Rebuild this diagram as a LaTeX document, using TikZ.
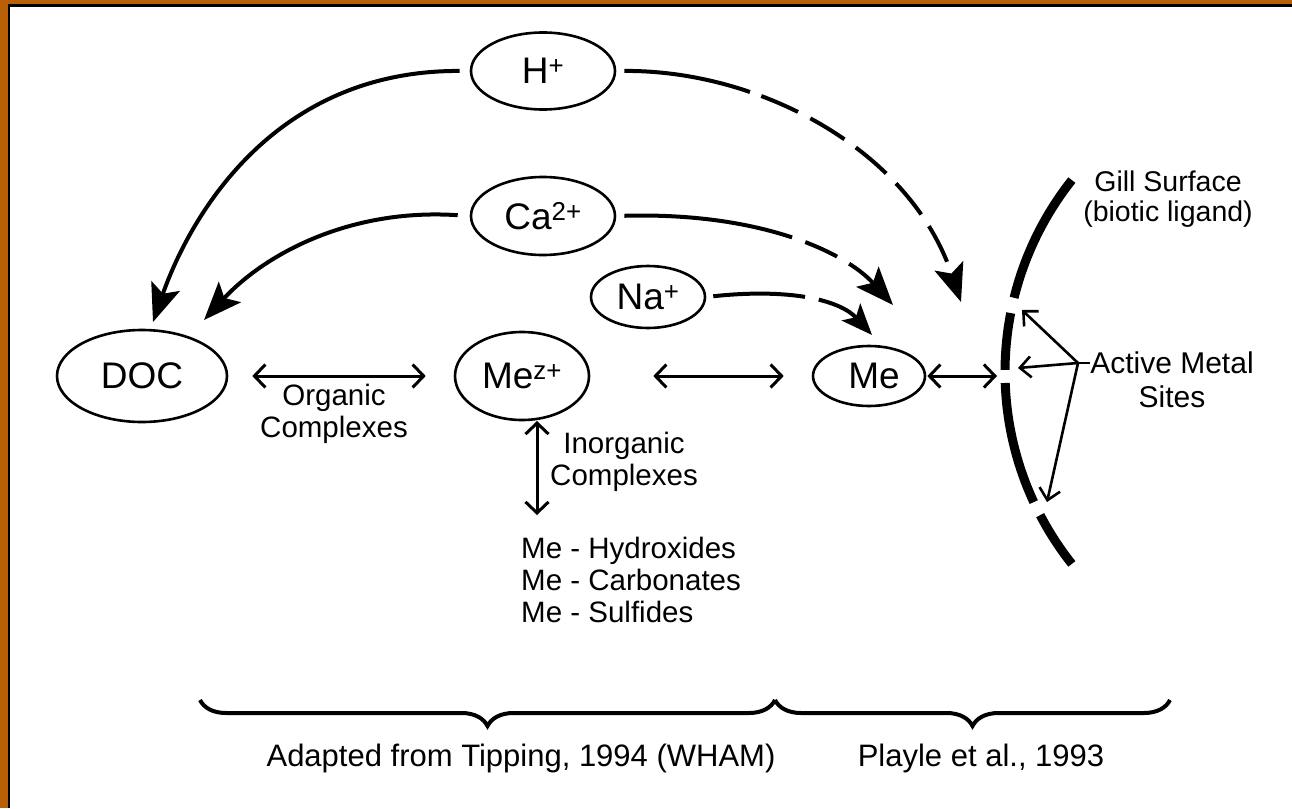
\documentclass[tikz,border=0pt]{standalone}
\usepackage{fontspec}
\setmainfont{Liberation Sans}
\usetikzlibrary{shapes.geometric,arrows.meta,decorations.pathreplacing}
\definecolor{frameorange}{RGB}{185,95,5}
\begin{document}
\begin{tikzpicture}[x=1pt,y=-1pt,
  ell/.style={draw, ellipse, line width=2.6pt, inner sep=0pt, font=\fontsize{37}{40}\selectfont},
  lbl/.style={font=\fontsize{29.5}{32}\selectfont, align=center, inner sep=0pt},
  curve/.style={line width=4pt, -{Stealth[length=38pt,width=30pt,inset=8pt]}},
  dbl/.style={line width=3pt, {Straight Barb[length=11pt,width=23pt]}-{Straight Barb[length=11pt,width=23pt]}},
  site/.style={line width=2.6pt, -{Straight Barb[length=11pt,width=21pt]}},
  gill/.style={line width=9pt},
  brc/.style={line width=4pt, decorate, decoration={brace, mirror, amplitude=26pt}}
]
\useasboundingbox (0,0) rectangle (1292,808);
\fill[white] (0,0) rectangle (1292,808);
\fill[frameorange] (0,0) rectangle (8,808);
\fill[frameorange] (0,0) rectangle (1292,4);
\fill[black] (7.5,4) rectangle (10,808);
\fill[black] (7.5,4) rectangle (1292,7.5);

% nodes
\node[ell, minimum width=170pt, minimum height=92pt] (doc) at (142,376) {DOC};
\node[ell, minimum width=134pt, minimum height=88pt] (mez) at (522,376) {Me\textsuperscript{z+}};
\node[ell, minimum width=112pt, minimum height=60pt] (me) at (869,376) {\hspace{10pt}Me};
\node[ell, minimum width=144pt, minimum height=77pt] (h) at (543,71) {H\textsuperscript{+}};
\node[ell, minimum width=144pt, minimum height=78pt] (ca) at (543,216) {Ca\textsuperscript{2+}};
\node[ell, minimum width=114pt, minimum height=62pt] (na) at (648,297) {Na\textsuperscript{+}};

\node[lbl] (org) at (334,414) {Organic\\Complexes};
\node[lbl] (inorg) at (624,462) {Inorganic\\Complexes};
\node[lbl, align=left, anchor=west] (prod) at (521,580) {Me - Hydroxides\\Me - Carbonates\\Me - Sulfides};
\node[lbl, font=\fontsize{28.5}{29.5}\selectfont] (gilltxt) at (1168,199) {Gill Surface\\(biotic ligand)};
\node[lbl, font=\fontsize{30}{34}\selectfont] (sites) at (1172,380) {Active Metal\\Sites};
\node[lbl, font=\fontsize{31}{34}\selectfont] (tip) at (521,758) {Adapted from Tipping, 1994 (WHAM)};
\node[lbl, font=\fontsize{31}{34}\selectfont] (play) at (981,758) {Playle et al., 1993};

% curved arrows
\coordinate (hlt) at (153,322);
\coordinate (clt) at (204,320);
\coordinate (hrt) at (961,302);
\coordinate (crt) at (893,305);
\coordinate (nat) at (872,335);
\draw[curve, shorten <=10pt] (h.west) .. controls (270,70) and (188,222) .. (hlt);
\draw[curve, shorten <=12pt] (ca.west) .. controls (350,208) and (265,254) .. (clt);
\draw[curve, shorten <=8pt, dash pattern=on 128pt off 12pt on 40pt off 14pt on 40pt off 14pt on 40pt off 14pt on 40pt off 14pt on 40pt off 14pt on 40pt off 14pt]
  (h.east) .. controls (760,70) and (910,150) .. (hrt);
\draw[curve, shorten <=8pt, dash pattern=on 170pt off 14pt on 35pt off 14pt on 35pt off 14pt on 35pt off 14pt on 35pt off 14pt]
  (ca.east) .. controls (760,212) and (845,252) .. (crt);
\draw[line width=4pt, -{Stealth[length=31pt,width=25pt,inset=7pt]}, shorten <=7pt, dash pattern=on 92pt off 14pt on 80pt off 10pt]
  (na.east) .. controls (790,288) and (840,300) .. (nat);

% straight double arrows
\coordinate (g2) at (997,376);
\coordinate (v1) at (537,421);
\coordinate (v2) at (537,515);
\draw[dbl] ([xshift=24pt]doc.east) -- ([xshift=-28pt]mez.west);
\draw[dbl] ([xshift=63pt]mez.east) -- ([xshift=-28pt]me.west);
\draw[dbl, shorten <=1pt] (me.east) -- (g2);
\draw[dbl] (v1) -- (v2);

% gill surface
\draw[gill] plot[domain=218.4:193.9, samples=30] ({1314+309*cos(\x)}, {372+309*sin(\x)});
\draw[gill] plot[domain=191:180.4, samples=15] ({1314+309*cos(\x)}, {372+309*sin(\x)});
\draw[gill] plot[domain=177.96:155.1, samples=30] ({1314+309*cos(\x)}, {372+309*sin(\x)});
\draw[gill] plot[domain=152.4:141.6, samples=15] ({1314+309*cos(\x)}, {372+309*sin(\x)});

% active sites
\coordinate (j) at (1078,363);
\coordinate (s1) at (1022,310);
\coordinate (s2) at (1018,368);
\coordinate (s3) at (1047,502);
\draw[line width=2.6pt] (j) -- (j -| sites.west);
\draw[site] (j) -- (s1);
\draw[site] (j) -- (s2);
\draw[site] (j) -- (s3);

% braces
\coordinate (b1) at (200,700);
\coordinate (b2) at (775,700);
\coordinate (b3) at (1170,700);
\draw[brc] (b1) -- (b2);
\draw[brc] (b2) -- (b3);
\end{tikzpicture}
\end{document}
